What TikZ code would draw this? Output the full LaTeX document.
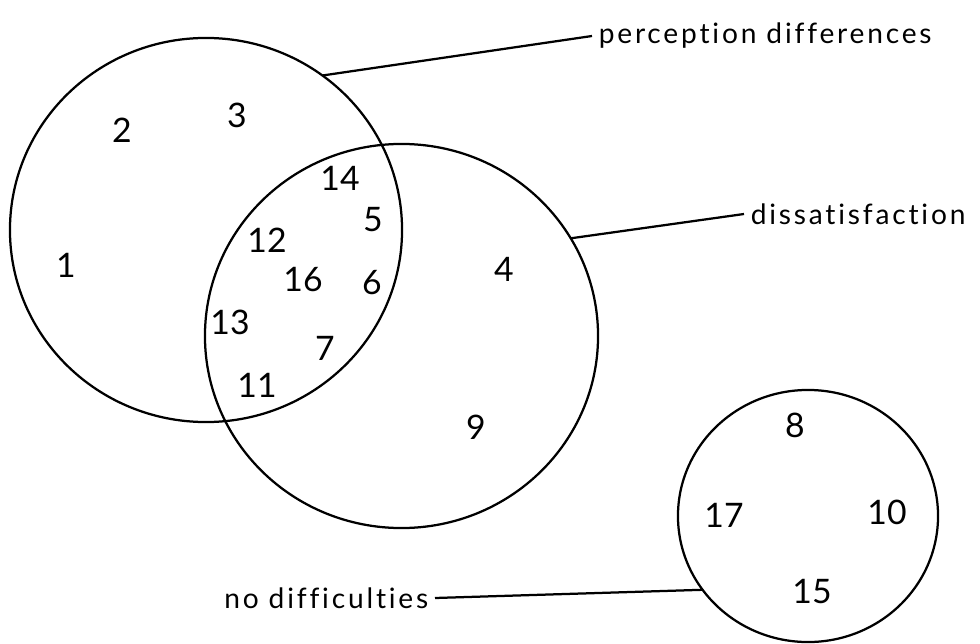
\documentclass[tikz,border=0pt]{standalone}
\usepackage{fontspec}
\setmainfont{Lato}
\newfontfamily\lblfont{Lato}[Ligatures=NoCommon, LetterSpace=10]
\usetikzlibrary{shapes.geometric}

\begin{document}
\begin{tikzpicture}[x=0.025cm, y=-0.025cm, line width=1.6pt,
    every node/.style={font=\fontsize{24}{28}\selectfont},
    set/.style={draw, ellipse, inner sep=0pt, outer sep=0pt},
    lbl/.style={font=\lblfont\fontsize{20}{24}\selectfont, inner sep=4pt}]
        \useasboundingbox (0,0) rectangle (980,644);
        \node[set, minimum width=9.8cm, minimum height=9.6cm] (perc) at (206,230) {};
        \node[set, minimum width=9.825cm, minimum height=9.6cm] (dis) at (401.5,336) {};
        \node[set, minimum width=6.5cm, minimum height=6.3cm] (nodiff) at (808,516) {};
        \node[lbl, anchor=west] (lperc) at (592,36) {perception differences};
        \node[lbl, anchor=west] (ldis) at (744,214) {dissatisfaction};
        \node[lbl, anchor=east] (lnodiff) at (435,598) {no difficulties};
        \draw (perc.53) -- (lperc.west);
        \draw (dis.30) -- (ldis.west);
        \draw (lnodiff.east) -- (nodiff.215);
        \node (n1) at (66,265) {1};
        \node (n2) at (122,130) {2};
        \node (n3) at (237,115) {3};
        \node (n4) at (504,269) {4};
        \node (n5) at (373,220) {5};
        \node (n6) at (372,283) {6};
        \node (n7) at (325,348) {7};
        \node (n8) at (795,425) {8};
        \node (n9) at (476,427) {9};
        \node (n10) at (887,512) {10};
        \node (n11) at (257,385) {11};
        \node (n12) at (267,240) {12};
        \node (n13) at (230,322) {13};
        \node (n14) at (340,178) {14};
        \node (n15) at (812,592) {15};
        \node (n16) at (303,280) {16};
        \node (n17) at (724,515) {17};
    \end{tikzpicture}
\end{document}
